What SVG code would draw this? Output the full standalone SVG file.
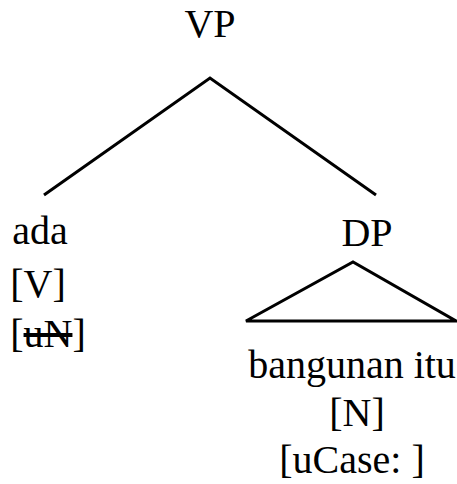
<svg xmlns="http://www.w3.org/2000/svg" width="457" height="484" viewBox="0 0 457 484">
<style>
text{font-family:"Liberation Serif","Times New Roman",serif;font-size:40px;fill:#000;text-anchor:middle}
.l{stroke:#000;stroke-width:3;fill:none;stroke-linejoin:miter}
</style>
<rect width="457" height="484" fill="#fff"/>
<g id="connectors">
<path class="l" d="M44,195 L210,78 L376,195"/>
<path class="l" d="M246,321 L353,262 L456,321 Z"/>
</g>
<g id="VP"><text x="210" y="37">VP</text></g>
<g id="ada">
<text x="40" y="244">ada</text>
<text x="38" y="297">[V]</text>
<text x="48" y="347">[<tspan text-decoration="line-through">uN</tspan>]</text>
</g>
<g id="DP"><text x="367" y="246">DP</text></g>
<g id="bangunan">
<text x="352" y="378">bangunan itu</text>
<text x="357" y="426">[N]</text>
<text x="352" y="473">[uCase: ]</text>
</g>
</svg>
